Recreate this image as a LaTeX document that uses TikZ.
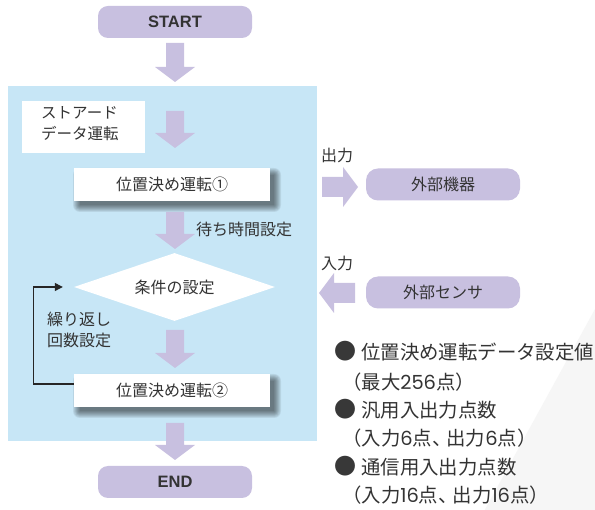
\documentclass[tikz,border=0pt]{standalone}
\usepackage{fontspec}
\setmainfont{Noto Sans CJK JP}
\newfontfamily\latinfont{Liberation Sans}
\newfontfamily\digitfont{Poppins}
\newcommand{\dg}[1]{{\digitfont #1}}
\newcommand{\tcomma}{、\kern-5pt}
\usetikzlibrary{shapes.geometric,arrows.meta}
\definecolor{lav}{RGB}{200,192,224}
\definecolor{panelblue}{RGB}{199,230,246}
\definecolor{txt}{RGB}{51,51,51}
\definecolor{faint}{RGB}{246,246,246}
\newcommand{\varrow}[3]{% x, top, tip
  \fill[lav] (#1-9,#2) -- (#1+9,#2) -- (#1+9,#3-15) -- (#1+20,#3-15) -- (#1,#3) -- (#1-20,#3-15) -- (#1-9,#3-15) -- cycle;}
\newcommand{\boxshadow}[4]{% x1,y1,x2,y2
  \foreach \e in {0,1,2,3,4,5,6,7}{
    \fill[black,opacity=0.075,rounded corners=\e pt] (#1+6-\e,#2+7-\e) rectangle (#3+4+\e,#4+4+\e);}}
\begin{document}
\begin{tikzpicture}[x=1pt,y=-1pt,
  term/.style={rectangle, rounded corners=10pt, fill=lav, minimum width=154pt, minimum height=32pt, inner sep=0pt,
    font=\latinfont\bfseries\fontsize{16.5pt}{18pt}\selectfont, text=txt},
  stepbox/.style={rectangle, fill=white, minimum width=196pt, minimum height=33pt, inner sep=0pt,
    font=\fontsize{16pt}{19pt}\selectfont, text=txt},
  extbox/.style={rectangle, rounded corners=12pt, fill=lav, minimum width=154pt, minimum height=32pt, inner sep=0pt,
    font=\fontsize{16pt}{19pt}\selectfont, text=txt},
  lbl/.style={font=\fontsize{16pt}{21pt}\selectfont, text=txt, inner sep=0pt},
  note/.style={font=\fontsize{19.4pt}{22pt}\selectfont, text=txt, inner sep=0pt, anchor=west},
  bullet/.style={font=\fontsize{22pt}{22pt}\selectfont, text=black!78, inner sep=0pt},
  looparrow/.style={draw=black!85, line width=1.2pt, -{Triangle[length=8pt,width=8pt]}},
]
\useasboundingbox (0,0) rectangle (595,510);
\fill[white] (0,0) rectangle (595,510);
\fill[faint] (600,300) -- (482,515) -- (600,515) -- cycle;

% panel
\fill[panelblue] (8,86) rectangle (317,441);

% terminals
\node[term] (start) at (175,22) {START};
\node[term] (end) at (175,482) {END};

% stored data box
\fill[white] (22,101) rectangle (145,153);
\node[lbl, anchor=north west, align=left, font=\fontsize{15.5pt}{21pt}\selectfont] (stored) at (41,106) {ストアード\\データ運転};

% step boxes with shadows
\boxshadow{74}{168}{270}{201}
\node[stepbox] (p1) at (172,184.5) {位置決め運転①};
\boxshadow{74}{374}{270}{407}
\node[stepbox] (p2) at (172,390.5) {位置決め運転②};

% condition diamond
\node[diamond, fill=white, aspect=2.94, minimum width=201pt, minimum height=68pt, inner sep=0pt,
  font=\fontsize{16pt}{19pt}\selectfont, text=txt] (cond) at (174.5,287) {条件の設定};

% block arrows
\varrow{175}{43}{82}
\varrow{175}{111}{148}
\varrow{175}{212}{249}
\varrow{175}{330}{368}
\varrow{175}{423}{460}

% labels
\node[lbl, anchor=west] (wait) at (196,229) {待ち時間設定};
\node[lbl, anchor=north west, align=left] (rep) at (47,312) {繰り返し\\回数設定};

% loop
\draw[looparrow] ([yshift=6.5pt]p2.west) -- ++(-40,0) |- ([xshift=-11pt]cond.west);

% external
\node[extbox] (ext1) at (443,184.5) {外部機器};
\node[extbox] (ext2) at (443,292.5) {外部センサ};
\node[lbl, anchor=west] (outl) at (321,155) {出力};
\node[lbl, anchor=west] (inl) at (321,263) {入力};
\fill[lav] (322,177) -- (343,177) -- (343,167) -- (358,187) -- (343,207) -- (343,197) -- (322,197) -- cycle;
\fill[lav] (355,283) -- (334,283) -- (334,273) -- (319,293) -- (334,313) -- (334,303) -- (355,303) -- cycle;

% notes
\node[bullet] (b1) at (345.5,351.5) {●};
\node[note] (n1) at (361,352) {位置決め運転データ設定値};
\node[note] (n1b) at (342,382) {（最大\dg{256}点）};
\node[bullet] (b2) at (345.5,409.5) {●};
\node[note] (n2) at (361,410) {汎用入出力点数};
\node[note] (n2b) at (342,438) {（入力\dg{6}点\tcomma 出力\dg{6}点）};
\node[bullet] (b3) at (345.5,466.5) {●};
\node[note] (n3) at (361,467) {通信用入出力点数};
\node[note] (n3b) at (342,495) {（入力\dg{16}点\tcomma 出力\dg{16}点）};
\end{tikzpicture}
\end{document}
